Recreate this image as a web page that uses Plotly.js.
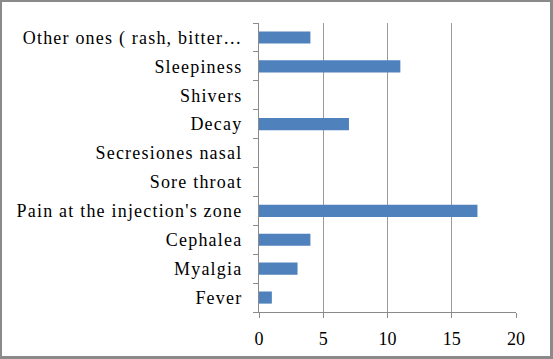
<!DOCTYPE html>
<html>
<head>
<meta charset="utf-8">
<script src="https://cdn.plot.ly/plotly-3.0.1.min.js"></script>
<style>
html,body{margin:0;padding:0;background:#fff;}
#wrap{position:relative;width:553px;height:359px;}
#chart{width:553px;height:359px;}
#frame{position:absolute;left:0;top:0;width:553px;height:359px;box-sizing:border-box;border:2px solid #8a8a8a;border-right-width:3px;border-bottom-width:3px;pointer-events:none;}
#chart .ytick text{letter-spacing:1.2px;}
html body #wrap #chart svg text{font-family:serif !important;}
</style>
</head>
<body>
<div id="wrap"><div id="chart"></div><div id="frame"></div></div>
<script>
var categories = ["Fever", "Myalgia", "Cephalea", "Pain at the injection's zone", "Sore throat", "Secresiones nasal", "Decay", "Shivers", "Sleepiness", "Other ones ( rash, bitter\u2026"];
var values = [1, 3, 4, 17, 0, 0, 7, 0, 11, 4];
var xTicks = [0, 5, 10, 15, 20];

var trace = {
  type: 'bar',
  orientation: 'h',
  y: categories,
  x: values,
  marker: {color: '#4F81BD'},
  hoverinfo: 'x+y'
};

var serif = 'serif';

var layout = {
  width: 553,
  height: 359,
  margin: {l: 259, r: 37, t: 23, b: 47, pad: 0},
  paper_bgcolor: '#ffffff',
  plot_bgcolor: '#ffffff',
  bargap: 0.58,
  showlegend: false,
  font: {family: serif, size: 18, color: '#000'},
  xaxis: {
    range: [0, 20],
    tickvals: xTicks,
    ticktext: xTicks.map(String),
    tickfont: {family: serif, size: 18, color: '#000'},
    showgrid: true,
    gridcolor: '#9a9a9a',
    gridwidth: 1,
    zeroline: false,
    showline: true,
    linecolor: '#8a8a8a',
    linewidth: 1,
    ticks: 'outside',
    ticklen: 5,
    tickcolor: '#8a8a8a',
    ticklabelstandoff: 5,
    fixedrange: true
  },
  yaxis: {
    type: 'category',
    categoryorder: 'array',
    categoryarray: categories,
    tickfont: {family: serif, size: 18, color: '#000'},
    showgrid: false,
    zeroline: false,
    showline: true,
    linecolor: '#8a8a8a',
    linewidth: 1,
    ticks: 'outside',
    tickson: 'boundaries',
    ticklen: 5,
    tickcolor: '#8a8a8a',
    ticklabelstandoff: 12,
    automargin: false,
    fixedrange: true
  }
};

var FAM = "serif";
function forceSerif() {
  document.querySelectorAll('#chart text').forEach(function (t) {
    if (t.style.getPropertyValue('font-family') !== FAM || t.style.getPropertyPriority('font-family') !== 'important') {
      t.style.setProperty('font-family', FAM, 'important');
    }
  });
}

var gd = document.getElementById('chart');
Plotly.newPlot(gd, [trace], layout, {displayModeBar: false, staticPlot: true}).then(function () {
  forceSerif();
  setTimeout(forceSerif, 50);
});
</script>
</body>
</html>
